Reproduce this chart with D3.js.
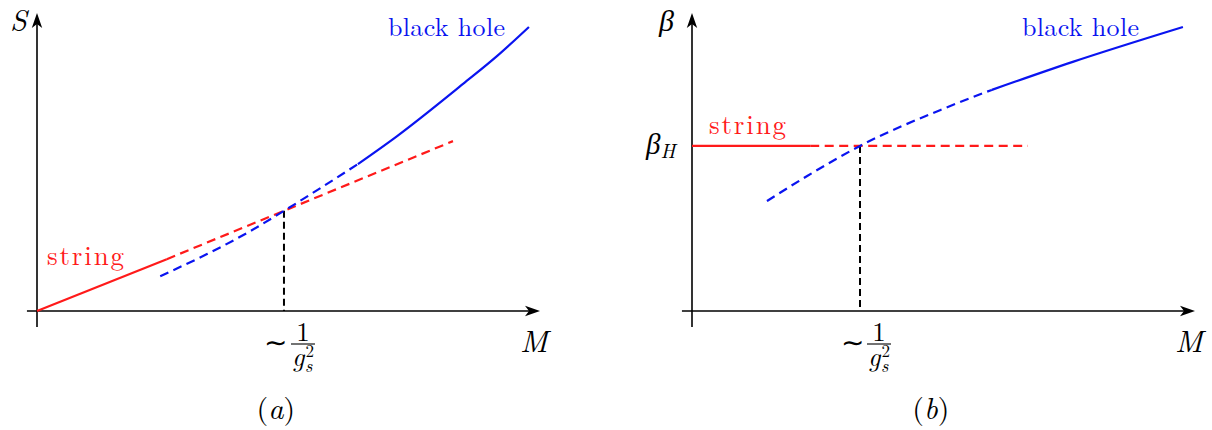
<!DOCTYPE html>
<html>
<head>
<meta charset="utf-8">
<script src="https://cdn.jsdelivr.net/npm/d3@7"></script>
<style>
  html, body { margin: 0; padding: 0; background: #fff; }
  svg { display: block; }
</style>
</head>
<body>
<div id="chart"></div>
<script>
// values, in arbitrary axis units (0..100 on both axes)

// (a) entropy S vs mass M
const stringSolidA = [[0, 0], [25.8, 17.4]];
const stringDashA = [[25.8, 17.4], [82.7, 57.0]];
const holeDashA = [[24.5, 11.7], [33.8, 19.1], [42.3, 26.7], [49.1, 33.6], [63.8, 49.3]];
const holeSolidA = [[63.8, 49.3], [71.6, 58.7], [84.7, 76.2], [91.5, 85.6], [97.8, 95.3]];
const crossA = [49.1, 33.6];

// (b) inverse temperature beta vs mass M
const betaH = 55.4;
const stringSolidB = [[0, betaH], [23.5, betaH]];
const stringDashB = [[23.5, betaH], [66.8, betaH]];
const holeDashB = [[14.9, 36.9], [22.9, 45.3], [33.4, 55.4], [49.3, 67.4], [59.6, 74.2]];
const holeSolidB = [[59.6, 74.2], [75.7, 83.6], [97.6, 95.3]];
const crossB = [33.4, 55.4];

const RED = '#ff1a1a';
const BLUE = '#0a14f0';
const SERIF = '"Latin Modern Roman", "CMU Serif", "Liberation Serif", serif';

const svg = d3.select('#chart').append('svg')
    .attr('width', 1212)
    .attr('height', 430)
    .style('font-family', SERIF);

function Panel(opts) {
    this.left = opts.left;      // pixel x of the vertical axis
    this.caption = opts.caption;
    this.g = svg.append('g');

    // both axes run 0..100, arrow tips at 100
    this.x = d3.scaleLinear().domain([0, 100]).range([this.left, this.left + 503]);
    this.y = d3.scaleLinear().domain([0, 100]).range([311, 13]);

    this.line = d3.line()
        .x(d => this.x(d[0]))
        .y(d => this.y(d[1]))
        .curve(d3.curveMonotoneX);
}

Panel.prototype.arrow = function(x, y, dir) {
    // stealth-like arrow head, tip at (x, y)
    let L = 15, W = 5.2, N = 4;
    let p;
    if (dir === 'right') {
        p = [[x, y], [x - L, y - W], [x - L + N, y], [x - L, y + W]];
    } else {
        p = [[x, y], [x - W, y + L], [x, y + L - N], [x + W, y + L]];
    }
    this.g.append('path')
        .attr('d', 'M' + p.join('L') + 'Z')
        .attr('fill', '#000');
};

Panel.prototype.axes = function() {
    let x = this.x, y = this.y;
    this.g.append('line')
        .attr('x1', x(-2)).attr('x2', x(100) - 6)
        .attr('y1', y(0)).attr('y2', y(0))
        .attr('stroke', '#000').attr('stroke-width', 1.6);
    this.g.append('line')
        .attr('x1', x(0)).attr('x2', x(0))
        .attr('y1', y(-5.4)).attr('y2', y(100) + 6)
        .attr('stroke', '#000').attr('stroke-width', 1.6);
    this.arrow(x(100), y(0), 'right');
    this.arrow(x(0), y(100), 'up');

    this.g.append('text')
        .attr('x', x(100) - 20).attr('y', y(0) + 41)
        .attr('font-size', 31).attr('font-style', 'italic')
        .text('M');
};

Panel.prototype.curve = function(data, color, dashed) {
    this.g.append('path')
        .attr('d', this.line(data))
        .attr('fill', 'none')
        .attr('stroke', color)
        .attr('stroke-width', 2.2)
        .attr('stroke-dasharray', dashed ? '9,5.5' : null);
};

Panel.prototype.crossing = function(pt) {
    let x = this.x, y = this.y;
    this.g.append('line')
        .attr('x1', x(pt[0])).attr('x2', x(pt[0]))
        .attr('y1', y(pt[1])).attr('y2', y(0))
        .attr('stroke', '#000')
        .attr('stroke-width', 2)
        .attr('stroke-dasharray', '7,4');

    // ~ 1/g_s^2 under the crossing
    let cx = x(pt[0]) + 19;
    let t = this.g.append('g');
    t.append('text')
        .attr('x', cx - 27).attr('y', 352)
        .attr('text-anchor', 'middle').attr('font-size', 28)
        .text('\u223c');
    t.append('text')
        .attr('x', cx).attr('y', 341)
        .attr('text-anchor', 'middle').attr('font-size', 27)
        .text('1');
    t.append('line')
        .attr('x1', cx - 12).attr('x2', cx + 12)
        .attr('y1', 344).attr('y2', 344)
        .attr('stroke', '#000').attr('stroke-width', 1.1);
    let den = t.append('text')
        .attr('x', cx - 11).attr('y', 366)
        .attr('font-size', 27).attr('font-style', 'italic');
    den.append('tspan').text('g');
    den.append('tspan').attr('font-size', 17).attr('font-style', 'normal')
        .attr('dx', 1).attr('dy', -9).text('2');
    den.append('tspan').attr('font-size', 18)
        .attr('dx', -9).attr('dy', 15).text('s');
};

Panel.prototype.labels = function(stringPos, holePos) {
    this.g.append('text')
        .attr('x', stringPos[0]).attr('y', stringPos[1])
        .attr('font-size', 27)
        .attr('fill', RED)
        .attr('textLength', 77)
        .text('string');
    this.g.append('text')
        .attr('x', holePos[0]).attr('y', holePos[1])
        .attr('font-size', 26)
        .attr('fill', BLUE)
        .attr('textLength', 117)
        .text('black hole');

    this.g.append('text')
        .attr('x', this.x(47.5)).attr('y', 419)
        .attr('text-anchor', 'middle')
        .attr('font-size', 30)
        .html(this.caption);
};

// panel (a)
let a = new Panel({ left: 37, caption: '(<tspan font-style="italic">a</tspan>)' });
a.axes();
a.g.append('text')
    .attr('x', 10).attr('y', 31).attr('font-size', 30).attr('font-style', 'italic')
    .text('S');
a.crossing(crossA);
a.curve(stringSolidA, RED, false);
a.curve(stringDashA, RED, true);
a.curve(holeDashA, BLUE, true);
a.curve(holeSolidA, BLUE, false);
a.labels([47, 265], [388, 36]);

// panel (b)
let b = new Panel({ left: 692, caption: '(<tspan font-style="italic">b</tspan>)' });
b.axes();
b.g.append('text')
    .attr('x', 659).attr('y', 31).attr('font-size', 30).attr('font-style', 'italic')
    .text('\u03b2');
let bh = b.g.append('text')
    .attr('x', 646).attr('y', b.y(betaH) + 8).attr('font-size', 29).attr('font-style', 'italic');
bh.append('tspan').text('\u03b2');
bh.append('tspan').attr('font-size', 20).attr('dy', 4).text('H');
b.crossing(crossB);
b.curve(stringSolidB, RED, false);
b.curve(stringDashB, RED, true);
b.curve(holeDashB, BLUE, true);
b.curve(holeSolidB, BLUE, false);
b.labels([709, 134], [1022, 36]);
</script>
</body>
</html>
